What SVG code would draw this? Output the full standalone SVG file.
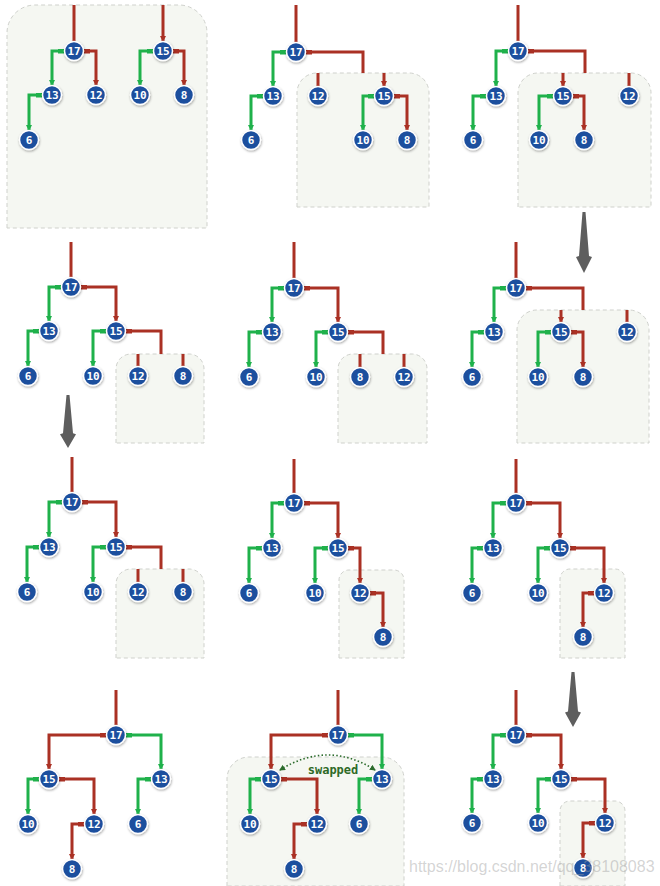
<svg xmlns="http://www.w3.org/2000/svg" width="660" height="886" viewBox="0 0 660 886">
<style>
.bg{fill:#ffffff}
.box{fill:#f5f7f2;stroke:#cfd1cc;stroke-width:1;stroke-dasharray:4 3}
.e{fill:none;stroke-width:3;stroke-linejoin:miter;stroke-linecap:butt}
.r{stroke:#aa3124}
.g{stroke:#1fb14b}
.re{marker-start:url(#tr);marker-end:url(#ar)}
.rt{marker-start:url(#tr)}
.rva{marker-end:url(#ar)}
.ge{marker-start:url(#tg);marker-end:url(#ag)}
.n circle{fill:#1f4f9e;stroke:#ffffff;stroke-width:1.5;filter:url(#sh)}
.n text{fill:#ffffff;font-family:"DejaVu Sans Mono","Liberation Mono",monospace;font-weight:bold;font-size:11px;text-anchor:middle}
.big{fill:#5e5e5e}
.swap{fill:none;stroke:#2b6b2b;stroke-width:1.6;stroke-dasharray:1.5 2.2;marker-start:url(#sw0);marker-end:url(#sw1)}
.lbl{fill:#2e6a26;font-family:"DejaVu Sans Mono","Liberation Mono",monospace;font-weight:bold;font-size:12px;text-anchor:middle}
.wm{fill:#a0a0a0;fill-opacity:0.45;font-family:"Liberation Sans",Arial,sans-serif;font-size:16px}
</style>
<defs>
<filter id="sh" x="-40%" y="-40%" width="180%" height="180%"><feDropShadow dx="0.5" dy="1.2" stdDeviation="0.9" flood-color="#000" flood-opacity="0.35"/></filter>
<marker id="ar" viewBox="0 0 6 6" refX="5" refY="3" markerWidth="6" markerHeight="6" markerUnits="userSpaceOnUse" orient="auto"><path d="M0,0 L6,3 L0,6 Z" fill="#aa3124"/></marker>
<marker id="ag" viewBox="0 0 6 6" refX="5" refY="3" markerWidth="6" markerHeight="6" markerUnits="userSpaceOnUse" orient="auto"><path d="M0,0 L6,3 L0,6 Z" fill="#1fb14b"/></marker>
<marker id="tr" viewBox="0 0 6 5" refX="0" refY="2.5" markerWidth="6" markerHeight="5" markerUnits="userSpaceOnUse" orient="auto"><rect width="6" height="5" fill="#aa3124"/></marker>
<marker id="tg" viewBox="0 0 6 5" refX="0" refY="2.5" markerWidth="6" markerHeight="5" markerUnits="userSpaceOnUse" orient="auto"><rect width="6" height="5" fill="#1fb14b"/></marker>
<marker id="sw1" viewBox="0 0 6 6" refX="5" refY="3" markerWidth="6" markerHeight="6" markerUnits="userSpaceOnUse" orient="auto"><path d="M0,0 L6,3 L0,6 Z" fill="#2b6b2b"/></marker>
<marker id="sw0" viewBox="0 0 6 6" refX="5" refY="3" markerWidth="6" markerHeight="6" markerUnits="userSpaceOnUse" orient="auto-start-reverse"><path d="M0,0 L6,3 L0,6 Z" fill="#2b6b2b"/></marker>
<path id="bigarrow" d="M-1.5,0 L1.5,0 L5,44 L8,45 L0,61 L-8,45 L-5,44 Z"/>
</defs>
<rect class="bg" x="0" y="0" width="660" height="886"/>

<g id="boxes">
<path class="box" d="M7,228 V33 A28 28 0 0 1 35,5 H179 A28 28 0 0 1 207,33 V228 Z"/>
<path class="box" d="M297,207 V93 A20 20 0 0 1 317,73 H409 A20 20 0 0 1 429,93 V207 Z"/>
<path class="box" d="M518,207 V93 A20 20 0 0 1 538,73 H631 A20 20 0 0 1 651,93 V207 Z"/>
<path class="box" d="M116,443 V369 A15 15 0 0 1 131,354 H189 A15 15 0 0 1 204,369 V443 Z"/>
<path class="box" d="M338,443 V369 A15 15 0 0 1 353,354 H412 A15 15 0 0 1 427,369 V443 Z"/>
<path class="box" d="M517,443 V330 A20 20 0 0 1 537,310 H629 A20 20 0 0 1 649,330 V443 Z"/>
<path class="box" d="M116,658 V584 A15 15 0 0 1 131,569 H189 A15 15 0 0 1 204,584 V658 Z"/>
<path class="box" d="M339,658 V580 A10 10 0 0 1 349,570 H394 A10 10 0 0 1 404,580 V658 Z"/>
<path class="box" d="M560,658 V579 A10 10 0 0 1 570,569 H615 A10 10 0 0 1 625,579 V658 Z"/>
<path class="box" d="M227,886 V779 A22 22 0 0 1 249,757 H382 A22 22 0 0 1 404,779 V886 Z"/>
<path class="box" d="M560,886 V811 A10 10 0 0 1 570,801 H615 A10 10 0 0 1 625,811 V886 Z"/>
</g>

<g id="step-arrows">
<use href="#bigarrow" class="big" transform="translate(584,212)"/>
<use href="#bigarrow" class="big" transform="translate(68,395) scale(1,0.87)"/>
<use href="#bigarrow" class="big" transform="translate(573,672) scale(1,0.9)"/>
</g>

<g id="connectors">
<!-- panel 1 -->
<path class="e r" d="M74,5 V41"/>
<path class="e r rva" d="M163,5 V41"/>
<path class="e g ge" d="M64,51 H52 V85"/>
<path class="e r re" d="M84,51 H96 V85"/>
<path class="e g ge" d="M42,95 H29 V130"/>
<path class="e g ge" d="M153,51 H140 V85"/>
<path class="e r re" d="M173,51 H184 V85"/>
<!-- panel 2 -->
<path class="e r" d="M296,5 V42"/>
<path class="e g ge" d="M286,52 H273 V86"/>
<path class="e r rt" d="M306,52 H363 V73"/>
<path class="e g ge" d="M263,96 H251 V130"/>
<path class="e r" d="M318,73 V86"/>
<path class="e r rva" d="M384,73 V86"/>
<path class="e g ge" d="M374,96 H363 V130"/>
<path class="e r re" d="M394,96 H407 V130"/>
<!-- panel 3 -->
<path class="e r" d="M518,5 V41"/>
<path class="e g ge" d="M508,51 H496 V86"/>
<path class="e r rt" d="M528,51 H585 V73"/>
<path class="e g ge" d="M486,96 H473 V130"/>
<path class="e r rva" d="M563,73 V86"/>
<path class="e r" d="M629,73 V86"/>
<path class="e g ge" d="M553,96 H539 V130"/>
<path class="e r re" d="M573,96 H584 V130"/>
<!-- panel 4 -->
<path class="e r" d="M71,242 V277"/>
<path class="e g ge" d="M61,287 H49 V321"/>
<path class="e r re" d="M81,287 H116 V321"/>
<path class="e g ge" d="M39,331 H28 V366"/>
<path class="e g ge" d="M106,331 H93 V366"/>
<path class="e r rt" d="M126,331 H161 V354"/>
<path class="e r" d="M138,354 V366"/>
<path class="e r" d="M183,354 V366"/>
<!-- panel 5 -->
<path class="e r" d="M294,242 V278"/>
<path class="e g ge" d="M284,288 H272 V322"/>
<path class="e r re" d="M304,288 H338 V322"/>
<path class="e g ge" d="M262,332 H249 V367"/>
<path class="e g ge" d="M328,332 H316 V367"/>
<path class="e r rt" d="M348,332 H383 V354"/>
<path class="e r" d="M360,354 V367"/>
<path class="e r" d="M404,354 V367"/>
<!-- panel 6 -->
<path class="e r" d="M516,242 V278"/>
<path class="e g ge" d="M506,288 H494 V322"/>
<path class="e r rt" d="M526,288 H583 V310"/>
<path class="e g ge" d="M484,332 H472 V367"/>
<path class="e r rva" d="M561,310 V322"/>
<path class="e r" d="M627,310 V322"/>
<path class="e g ge" d="M551,332 H538 V367"/>
<path class="e r re" d="M571,332 H583 V367"/>
<!-- panel 7 -->
<path class="e r" d="M72,457 V492"/>
<path class="e g ge" d="M62,502 H49 V537"/>
<path class="e r re" d="M82,502 H116 V537"/>
<path class="e g ge" d="M39,547 H27 V582"/>
<path class="e g ge" d="M106,547 H93 V582"/>
<path class="e r rt" d="M126,547 H161 V569"/>
<path class="e r" d="M138,569 V582"/>
<path class="e r" d="M183,569 V582"/>
<!-- panel 8 -->
<path class="e r" d="M294,459 V493"/>
<path class="e g ge" d="M284,503 H272 V538"/>
<path class="e r re" d="M304,503 H338 V538"/>
<path class="e g ge" d="M262,548 H249 V583"/>
<path class="e g ge" d="M328,548 H315 V583"/>
<path class="e r re" d="M348,548 H360 V583"/>
<path class="e r re" d="M370,593 H383 V627"/>
<!-- panel 9 -->
<path class="e r" d="M516,459 V493"/>
<path class="e g ge" d="M506,503 H493 V538"/>
<path class="e r re" d="M526,503 H560 V538"/>
<path class="e g ge" d="M483,548 H472 V583"/>
<path class="e g ge" d="M550,548 H538 V583"/>
<path class="e r re" d="M570,548 H604 V583"/>
<path class="e r re" d="M594,593 H583 V627"/>
<!-- panel 10 -->
<path class="e r" d="M116,690 V725"/>
<path class="e r re" d="M106,735 H49 V769"/>
<path class="e g ge" d="M126,735 H161 V769"/>
<path class="e g ge" d="M39,779 H28 V814"/>
<path class="e r re" d="M59,779 H94 V814"/>
<path class="e r re" d="M84,824 H72 V859"/>
<path class="e g ge" d="M151,779 H138 V814"/>
<!-- panel 11 -->
<path class="e r" d="M338,690 V725"/>
<path class="e r re" d="M328,735 H271 V769"/>
<path class="e g ge" d="M348,735 H382 V769"/>
<path class="e g ge" d="M261,779 H250 V814"/>
<path class="e r re" d="M281,779 H317 V814"/>
<path class="e r re" d="M307,824 H294 V859"/>
<path class="e g ge" d="M372,779 H359 V814"/>
<path class="swap" d="M280,770 Q328,740 375,770"/>
<!-- panel 12 -->
<path class="e r" d="M516,690 V725"/>
<path class="e g ge" d="M506,735 H493 V769"/>
<path class="e r re" d="M526,735 H561 V769"/>
<path class="e g ge" d="M483,779 H472 V813"/>
<path class="e g ge" d="M551,779 H538 V813"/>
<path class="e r re" d="M571,779 H605 V813"/>
<path class="e r re" d="M595,823 H583 V858"/>
</g>

<g id="nodes">
<g id="p1-17" class="n" transform="translate(74,51)"><circle r="9.5"/><text y="4">17</text></g>
<g id="p1-13" class="n" transform="translate(52,95)"><circle r="9.5"/><text y="4">13</text></g>
<g id="p1-12" class="n" transform="translate(96,95)"><circle r="9.5"/><text y="4">12</text></g>
<g id="p1-6" class="n" transform="translate(29,140)"><circle r="9.5"/><text y="4">6</text></g>
<g id="p1-15" class="n" transform="translate(163,51)"><circle r="9.5"/><text y="4">15</text></g>
<g id="p1-10" class="n" transform="translate(140,95)"><circle r="9.5"/><text y="4">10</text></g>
<g id="p1-8" class="n" transform="translate(184,95)"><circle r="9.5"/><text y="4">8</text></g>

<g id="p2-17" class="n" transform="translate(296,52)"><circle r="9.5"/><text y="4">17</text></g>
<g id="p2-13" class="n" transform="translate(273,96)"><circle r="9.5"/><text y="4">13</text></g>
<g id="p2-6" class="n" transform="translate(251,140)"><circle r="9.5"/><text y="4">6</text></g>
<g id="p2-12" class="n" transform="translate(318,96)"><circle r="9.5"/><text y="4">12</text></g>
<g id="p2-15" class="n" transform="translate(384,96)"><circle r="9.5"/><text y="4">15</text></g>
<g id="p2-10" class="n" transform="translate(363,140)"><circle r="9.5"/><text y="4">10</text></g>
<g id="p2-8" class="n" transform="translate(407,140)"><circle r="9.5"/><text y="4">8</text></g>

<g id="p3-17" class="n" transform="translate(518,51)"><circle r="9.5"/><text y="4">17</text></g>
<g id="p3-13" class="n" transform="translate(496,96)"><circle r="9.5"/><text y="4">13</text></g>
<g id="p3-6" class="n" transform="translate(473,140)"><circle r="9.5"/><text y="4">6</text></g>
<g id="p3-15" class="n" transform="translate(563,96)"><circle r="9.5"/><text y="4">15</text></g>
<g id="p3-12" class="n" transform="translate(629,96)"><circle r="9.5"/><text y="4">12</text></g>
<g id="p3-10" class="n" transform="translate(539,140)"><circle r="9.5"/><text y="4">10</text></g>
<g id="p3-8" class="n" transform="translate(584,140)"><circle r="9.5"/><text y="4">8</text></g>

<g id="p4-17" class="n" transform="translate(71,287)"><circle r="9.5"/><text y="4">17</text></g>
<g id="p4-13" class="n" transform="translate(49,331)"><circle r="9.5"/><text y="4">13</text></g>
<g id="p4-15" class="n" transform="translate(116,331)"><circle r="9.5"/><text y="4">15</text></g>
<g id="p4-6" class="n" transform="translate(28,376)"><circle r="9.5"/><text y="4">6</text></g>
<g id="p4-10" class="n" transform="translate(93,376)"><circle r="9.5"/><text y="4">10</text></g>
<g id="p4-12" class="n" transform="translate(138,376)"><circle r="9.5"/><text y="4">12</text></g>
<g id="p4-8" class="n" transform="translate(183,376)"><circle r="9.5"/><text y="4">8</text></g>

<g id="p5-17" class="n" transform="translate(294,288)"><circle r="9.5"/><text y="4">17</text></g>
<g id="p5-13" class="n" transform="translate(272,332)"><circle r="9.5"/><text y="4">13</text></g>
<g id="p5-15" class="n" transform="translate(338,332)"><circle r="9.5"/><text y="4">15</text></g>
<g id="p5-6" class="n" transform="translate(249,377)"><circle r="9.5"/><text y="4">6</text></g>
<g id="p5-10" class="n" transform="translate(316,377)"><circle r="9.5"/><text y="4">10</text></g>
<g id="p5-8" class="n" transform="translate(360,377)"><circle r="9.5"/><text y="4">8</text></g>
<g id="p5-12" class="n" transform="translate(404,377)"><circle r="9.5"/><text y="4">12</text></g>

<g id="p6-17" class="n" transform="translate(516,288)"><circle r="9.5"/><text y="4">17</text></g>
<g id="p6-13" class="n" transform="translate(494,332)"><circle r="9.5"/><text y="4">13</text></g>
<g id="p6-6" class="n" transform="translate(472,377)"><circle r="9.5"/><text y="4">6</text></g>
<g id="p6-15" class="n" transform="translate(561,332)"><circle r="9.5"/><text y="4">15</text></g>
<g id="p6-12" class="n" transform="translate(627,332)"><circle r="9.5"/><text y="4">12</text></g>
<g id="p6-10" class="n" transform="translate(538,377)"><circle r="9.5"/><text y="4">10</text></g>
<g id="p6-8" class="n" transform="translate(583,377)"><circle r="9.5"/><text y="4">8</text></g>

<g id="p7-17" class="n" transform="translate(72,502)"><circle r="9.5"/><text y="4">17</text></g>
<g id="p7-13" class="n" transform="translate(49,547)"><circle r="9.5"/><text y="4">13</text></g>
<g id="p7-15" class="n" transform="translate(116,547)"><circle r="9.5"/><text y="4">15</text></g>
<g id="p7-6" class="n" transform="translate(27,592)"><circle r="9.5"/><text y="4">6</text></g>
<g id="p7-10" class="n" transform="translate(93,592)"><circle r="9.5"/><text y="4">10</text></g>
<g id="p7-12" class="n" transform="translate(138,592)"><circle r="9.5"/><text y="4">12</text></g>
<g id="p7-8" class="n" transform="translate(183,592)"><circle r="9.5"/><text y="4">8</text></g>

<g id="p8-17" class="n" transform="translate(294,503)"><circle r="9.5"/><text y="4">17</text></g>
<g id="p8-13" class="n" transform="translate(272,548)"><circle r="9.5"/><text y="4">13</text></g>
<g id="p8-15" class="n" transform="translate(338,548)"><circle r="9.5"/><text y="4">15</text></g>
<g id="p8-6" class="n" transform="translate(249,593)"><circle r="9.5"/><text y="4">6</text></g>
<g id="p8-10" class="n" transform="translate(315,593)"><circle r="9.5"/><text y="4">10</text></g>
<g id="p8-12" class="n" transform="translate(360,593)"><circle r="9.5"/><text y="4">12</text></g>
<g id="p8-8" class="n" transform="translate(383,637)"><circle r="9.5"/><text y="4">8</text></g>

<g id="p9-17" class="n" transform="translate(516,503)"><circle r="9.5"/><text y="4">17</text></g>
<g id="p9-13" class="n" transform="translate(493,548)"><circle r="9.5"/><text y="4">13</text></g>
<g id="p9-15" class="n" transform="translate(560,548)"><circle r="9.5"/><text y="4">15</text></g>
<g id="p9-6" class="n" transform="translate(472,593)"><circle r="9.5"/><text y="4">6</text></g>
<g id="p9-10" class="n" transform="translate(538,593)"><circle r="9.5"/><text y="4">10</text></g>
<g id="p9-12" class="n" transform="translate(604,593)"><circle r="9.5"/><text y="4">12</text></g>
<g id="p9-8" class="n" transform="translate(583,637)"><circle r="9.5"/><text y="4">8</text></g>

<g id="p10-17" class="n" transform="translate(116,735)"><circle r="9.5"/><text y="4">17</text></g>
<g id="p10-15" class="n" transform="translate(49,779)"><circle r="9.5"/><text y="4">15</text></g>
<g id="p10-13" class="n" transform="translate(161,779)"><circle r="9.5"/><text y="4">13</text></g>
<g id="p10-10" class="n" transform="translate(28,824)"><circle r="9.5"/><text y="4">10</text></g>
<g id="p10-12" class="n" transform="translate(94,824)"><circle r="9.5"/><text y="4">12</text></g>
<g id="p10-6" class="n" transform="translate(138,824)"><circle r="9.5"/><text y="4">6</text></g>
<g id="p10-8" class="n" transform="translate(72,869)"><circle r="9.5"/><text y="4">8</text></g>

<g id="p11-17" class="n" transform="translate(338,735)"><circle r="9.5"/><text y="4">17</text></g>
<g id="p11-15" class="n" transform="translate(271,779)"><circle r="9.5"/><text y="4">15</text></g>
<g id="p11-13" class="n" transform="translate(382,779)"><circle r="9.5"/><text y="4">13</text></g>
<g id="p11-10" class="n" transform="translate(250,824)"><circle r="9.5"/><text y="4">10</text></g>
<g id="p11-12" class="n" transform="translate(317,824)"><circle r="9.5"/><text y="4">12</text></g>
<g id="p11-6" class="n" transform="translate(359,824)"><circle r="9.5"/><text y="4">6</text></g>
<g id="p11-8" class="n" transform="translate(294,869)"><circle r="9.5"/><text y="4">8</text></g>

<g id="p12-17" class="n" transform="translate(516,735)"><circle r="9.5"/><text y="4">17</text></g>
<g id="p12-13" class="n" transform="translate(493,779)"><circle r="9.5"/><text y="4">13</text></g>
<g id="p12-15" class="n" transform="translate(561,779)"><circle r="9.5"/><text y="4">15</text></g>
<g id="p12-6" class="n" transform="translate(472,823)"><circle r="9.5"/><text y="4">6</text></g>
<g id="p12-10" class="n" transform="translate(538,823)"><circle r="9.5"/><text y="4">10</text></g>
<g id="p12-12" class="n" transform="translate(605,823)"><circle r="9.5"/><text y="4">12</text></g>
<g id="p12-8" class="n" transform="translate(583,868)"><circle r="9.5"/><text y="4">8</text></g>
</g>

<text class="lbl" x="333" y="774">swapped</text>
<text class="wm" x="409" y="872">https://blog.csdn.net/qq_38108083</text>
</svg>
